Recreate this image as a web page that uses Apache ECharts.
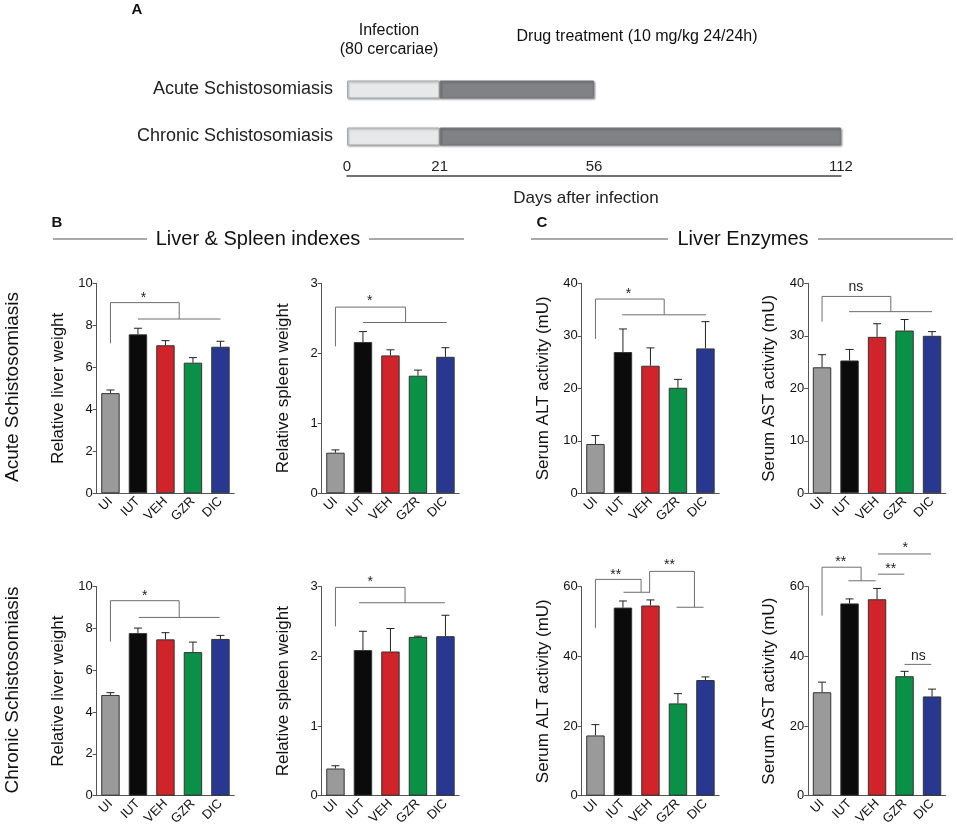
<!DOCTYPE html>
<html>
<head>
<meta charset="utf-8">
<script src="https://cdn.jsdelivr.net/npm/echarts@6/dist/echarts.min.js"></script>
<style>
  html, body { margin: 0; padding: 0; background: #fff; }
  #main { width: 957px; height: 829px; }
</style>
</head>
<body>
<div id="main"></div>
<script>
// groups
var groups = ['UI', 'IUT', 'VEH', 'GZR', 'DIC'];
var groupColors = ['#9a9a9a', '#0b0b0c', '#d1232a', '#0a9047', '#283891'];

// A - timeline (days after infection)
var phases = ['Acute Schistosomiasis', 'Chronic Schistosomiasis'];
var infectionEnd = [21, 21];
var treatmentEnd = [56, 112];
var dayTicks = [0, 21, 56, 112];

// B / C - acute (mean, sem)
var acuteLiver = [4.77, 7.57, 7.05, 6.22, 6.98];
var acuteLiverErr = [0.15, 0.29, 0.22, 0.24, 0.26];
var acuteSpleen = [0.58, 2.16, 1.97, 1.68, 1.95];
var acuteSpleenErr = [0.04, 0.15, 0.08, 0.08, 0.13];
var acuteALT = [9.4, 26.9, 24.3, 20.1, 27.6];
var acuteALTErr = [1.6, 4.4, 3.4, 1.6, 5.1];
var acuteAST = [24.0, 25.3, 29.8, 31.0, 30.0];
var acuteASTErr = [2.4, 2.1, 2.5, 2.1, 0.8];

// B / C - chronic (mean, sem)
var chronicLiver = [4.82, 7.78, 7.48, 6.87, 7.50];
var chronicLiverErr = [0.11, 0.24, 0.32, 0.48, 0.17];
var chronicSpleen = [0.39, 2.09, 2.07, 2.28, 2.29];
var chronicSpleenErr = [0.04, 0.27, 0.33, 0.01, 0.30];
var chronicALT = [17.3, 54.0, 54.6, 26.5, 33.2];
var chronicALTErr = [3.1, 1.9, 1.6, 2.8, 0.9];
var chronicAST = [29.7, 55.2, 56.4, 34.3, 28.5];
var chronicASTErr = [2.9, 1.3, 3.1, 1.4, 2.1];

// significance brackets: polylines in [group index, value]
var acuteLiverBr = [[[0, 7.14], [0, 9.08], [2.5, 9.08], [2.5, 8.3]], [[1, 8.3], [4, 8.3]]];
var acuteLiverSig = [[1.2, 9.5, '*']];
var acuteSpleenBr = [[[0, 2.1], [0, 2.66], [2.55, 2.66], [2.55, 2.44]], [[1, 2.44], [4.05, 2.44]]];
var acuteSpleenSig = [[1.25, 2.8, '*']];
var acuteALTBr = [[[0, 29.4], [0, 37], [2.5, 37], [2.5, 34]], [[0.97, 34], [4.02, 34]]];
var acuteALTSig = [[1.2, 38.7, '*']];
var acuteASTBr = [[[0, 32.7], [0, 37.5], [2.5, 37.5], [2.5, 34.6]], [[0.98, 34.6], [4, 34.6]]];
var acuteASTSig = [[1.23, 39.2, 'ns']];
var chronicLiverBr = [[[0, 7.37], [0, 9.33], [2.5, 9.33], [2.5, 8.53]], [[1.03, 8.53], [3.97, 8.53]]];
var chronicLiverSig = [[1.25, 9.76, '*']];
var chronicSpleenBr = [[[0, 2.43], [0, 2.99], [2.53, 2.99], [2.53, 2.77]], [[0.86, 2.77], [3.98, 2.77]]];
var chronicSpleenSig = [[1.26, 3.13, '*']];
var chronicALTBr = [[[0, 48.2], [0, 62.1], [1.66, 62.1], [1.66, 58.4]], [[1.02, 58.4], [1.98, 58.4]],
                    [[1.97, 58.3], [1.97, 64.4], [3.6, 64.4], [3.6, 54.1]], [[2.95, 54.1], [3.93, 54.1]]];
var chronicALTSig = [[0.74, 64.6, '**'], [2.69, 67.3, '**']];
var chronicASTBr = [[[0, 51.7], [0, 65.6], [1.42, 65.6], [1.42, 61.7]], [[0.96, 61.7], [1.95, 61.7]],
                    [[2.03, 63.6], [2.99, 63.6]], [[2.03, 69.4], [3.96, 69.4]], [[3, 37.7], [3.97, 37.7]]];
var chronicASTSig = [[0.68, 68.1, '**'], [2.5, 66.3, '**'], [3.02, 72.2, '*'], [3.5, 40, 'ns']];

var FONT = '"Liberation Sans", Arial, Helvetica, sans-serif';
var AXIS = '#555';

var panels = [
  {mean: acuteLiver, err: acuteLiverErr, max: 10, step: 2, name: 'Relative liver weight', br: acuteLiverBr, sig: acuteLiverSig},
  {mean: acuteSpleen, err: acuteSpleenErr, max: 3, step: 1, name: 'Relative spleen weight', br: acuteSpleenBr, sig: acuteSpleenSig},
  {mean: acuteALT, err: acuteALTErr, max: 40, step: 10, name: 'Serum ALT activity (mU)', br: acuteALTBr, sig: acuteALTSig},
  {mean: acuteAST, err: acuteASTErr, max: 40, step: 10, name: 'Serum AST activity (mU)', br: acuteASTBr, sig: acuteASTSig},
  {mean: chronicLiver, err: chronicLiverErr, max: 10, step: 2, name: 'Relative liver weight', br: chronicLiverBr, sig: chronicLiverSig},
  {mean: chronicSpleen, err: chronicSpleenErr, max: 3, step: 1, name: 'Relative spleen weight', br: chronicSpleenBr, sig: chronicSpleenSig},
  {mean: chronicALT, err: chronicALTErr, max: 60, step: 20, name: 'Serum ALT activity (mU)', br: chronicALTBr, sig: chronicALTSig},
  {mean: chronicAST, err: chronicASTErr, max: 60, step: 20, name: 'Serum AST activity (mU)', br: chronicASTBr, sig: chronicASTSig}
];

// layout of the panel grids
var colLeft = [96.7, 321.7, 581.7, 808.3];
var rowTop = [283.3, 586.7];
var rowH = [210, 209];
var panelW = 137.5;

var grids = [{left: 347, top: 66, width: 494, height: 94}];
var xAxes = [{
  gridIndex: 0, type: 'value', min: 0, max: 112, interval: 7, offset: 16,
  axisLine: {show: true, onZero: false, lineStyle: {color: '#444', width: 1.5}},
  axisTick: {show: false}, splitLine: {show: false},
  axisLabel: {inside: true, margin: 2, fontSize: 15, color: '#222', fontFamily: FONT,
    formatter: function (v) { return dayTicks.indexOf(v) >= 0 ? String(v) : ''; }},
  name: 'Days after infection', nameLocation: 'middle', nameGap: 14,
  nameTextStyle: {fontSize: 17, color: '#222', fontFamily: FONT, padding: [0, 16, 0, 0]}
}];
var yAxes = [{
  gridIndex: 0, type: 'category', inverse: true, data: phases,
  axisLine: {show: false}, axisTick: {show: false},
  axisLabel: {fontSize: 18, color: '#222', margin: 14, fontFamily: FONT}
}];
var series = [
  {type: 'bar', xAxisIndex: 0, yAxisIndex: 0, stack: 'days', barWidth: 18, data: infectionEnd,
   itemStyle: {color: '#e7e8e9', borderColor: '#a6a8ab', borderWidth: 1,
     shadowColor: 'rgba(0,0,0,0.35)', shadowBlur: 2, shadowOffsetX: 1, shadowOffsetY: 1}},
  {type: 'bar', xAxisIndex: 0, yAxisIndex: 0, stack: 'days', barWidth: 18,
   data: treatmentEnd.map(function (d, i) { return d - infectionEnd[i]; }),
   itemStyle: {color: '#808285', borderColor: '#76777a', borderWidth: 1,
     shadowColor: 'rgba(0,0,0,0.35)', shadowBlur: 2, shadowOffsetX: 1, shadowOffsetY: 1}}
];

function errRender(params, api) {
  var p0 = api.coord([api.value(0), api.value(1)]);
  var p1 = api.coord([api.value(0), api.value(1) + api.value(2)]);
  return {type: 'group', children: [
    {type: 'line', shape: {x1: p0[0], y1: p0[1], x2: p1[0], y2: p1[1]}, style: {stroke: '#222', lineWidth: 1}},
    {type: 'line', shape: {x1: p1[0] - 4, y1: p1[1], x2: p1[0] + 4, y2: p1[1]}, style: {stroke: '#222', lineWidth: 1}}
  ]};
}

function bracketRender(br, sig) {
  return function (params, api) {
    var kids = [];
    br.forEach(function (line) {
      kids.push({type: 'polyline', shape: {points: line.map(function (p) { return api.coord(p); })},
        style: {stroke: '#6d6d6d', lineWidth: 1, fill: null}});
    });
    sig.forEach(function (s) {
      var c = api.coord([s[0], s[1]]);
      var star = s[2].indexOf('*') >= 0;
      kids.push({type: 'text', x: c[0], y: c[1] + (star ? 4 : 0),
        style: {text: s[2], fontSize: 14, fontFamily: FONT, fill: '#222', align: 'center', verticalAlign: 'middle'}});
    });
    return {type: 'group', children: kids};
  };
}

panels.forEach(function (p, k) {
  var g = k + 1;
  var row = k < 4 ? 0 : 1;
  grids.push({left: colLeft[k % 4], top: rowTop[row], width: panelW, height: rowH[row]});
  var catIdx = xAxes.length;
  xAxes.push({
    gridIndex: g, type: 'category', data: groups,
    axisLine: {lineStyle: {color: AXIS, width: 1}},
    axisTick: {alignWithLabel: true, length: 3, lineStyle: {color: AXIS}},
    axisLabel: {rotate: 45, fontSize: 13, color: '#111', margin: 6, fontFamily: FONT}
  });
  var valIdx = xAxes.length;
  xAxes.push({gridIndex: g, type: 'value', min: -0.5, max: 4.5, show: false});
  yAxes.push({
    gridIndex: g, type: 'value', min: 0, max: p.max, interval: p.step,
    axisLine: {show: true, onZero: false, lineStyle: {color: AXIS, width: 1}},
    axisTick: {show: true, length: 4, lineStyle: {color: AXIS}},
    splitLine: {show: false},
    axisLabel: {fontSize: 13, color: '#111', margin: 4, fontFamily: FONT},
    name: p.name, nameLocation: 'middle', nameRotate: 90, nameGap: 30,
    nameTextStyle: {fontSize: 17, color: '#111', fontFamily: FONT}
  });
  series.push({
    type: 'bar', xAxisIndex: catIdx, yAxisIndex: g, barWidth: '67%',
    data: p.mean.map(function (v, i) {
      return {value: v, itemStyle: {color: groupColors[i]}};
    }),
    itemStyle: {borderColor: '#333', borderWidth: 1}
  });
  series.push({
    type: 'custom', xAxisIndex: valIdx, yAxisIndex: g, z: 3,
    data: p.mean.map(function (v, i) { return [i, v, p.err[i]]; }),
    renderItem: errRender
  });
  series.push({
    type: 'custom', xAxisIndex: valIdx, yAxisIndex: g, z: 3, clip: false,
    data: [[0, 0]],
    renderItem: bracketRender(p.br, p.sig)
  });
});

function txt(x, y, s, size, opts) {
  var st = {text: s, fontSize: size, fontFamily: FONT, fill: '#111', align: 'center', verticalAlign: 'middle'};
  for (var k in (opts || {})) st[k] = opts[k];
  return {type: 'text', x: x, y: y, style: st};
}
function hline(x1, x2, y) {
  return {type: 'line', shape: {x1: x1, y1: y, x2: x2, y2: y}, style: {stroke: '#555', lineWidth: 1}};
}

var graphics = [
  txt(137, 10, 'A', 15, {fontWeight: 'bold'}),
  txt(57, 223, 'B', 15, {fontWeight: 'bold'}),
  txt(542, 223, 'C', 15, {fontWeight: 'bold'}),
  txt(389, 31, 'Infection', 16),
  txt(389, 50, '(80 cercariae)', 16),
  txt(637, 37, 'Drug treatment (10 mg/kg 24/24h)', 16),
  txt(258, 239, 'Liver & Spleen indexes', 20),
  hline(53, 147, 239), hline(369, 464, 239),
  txt(743, 239, 'Liver Enzymes', 20),
  hline(531, 668, 239), hline(818, 953, 239),
  {type: 'text', x: 13, y: 387, rotation: Math.PI / 2,
   style: {text: 'Acute Schistosomiasis', fontSize: 19, fontFamily: FONT, fill: '#111', align: 'center', verticalAlign: 'middle'}},
  {type: 'text', x: 13, y: 690, rotation: Math.PI / 2,
   style: {text: 'Chronic Schistosomiasis', fontSize: 19, fontFamily: FONT, fill: '#111', align: 'center', verticalAlign: 'middle'}}
];

var chart = echarts.init(document.getElementById('main'));
chart.setOption({
  backgroundColor: '#fff',
  animation: false,
  textStyle: {fontFamily: FONT},
  grid: grids,
  xAxis: xAxes,
  yAxis: yAxes,
  series: series,
  graphic: graphics
});
</script>
</body>
</html>
